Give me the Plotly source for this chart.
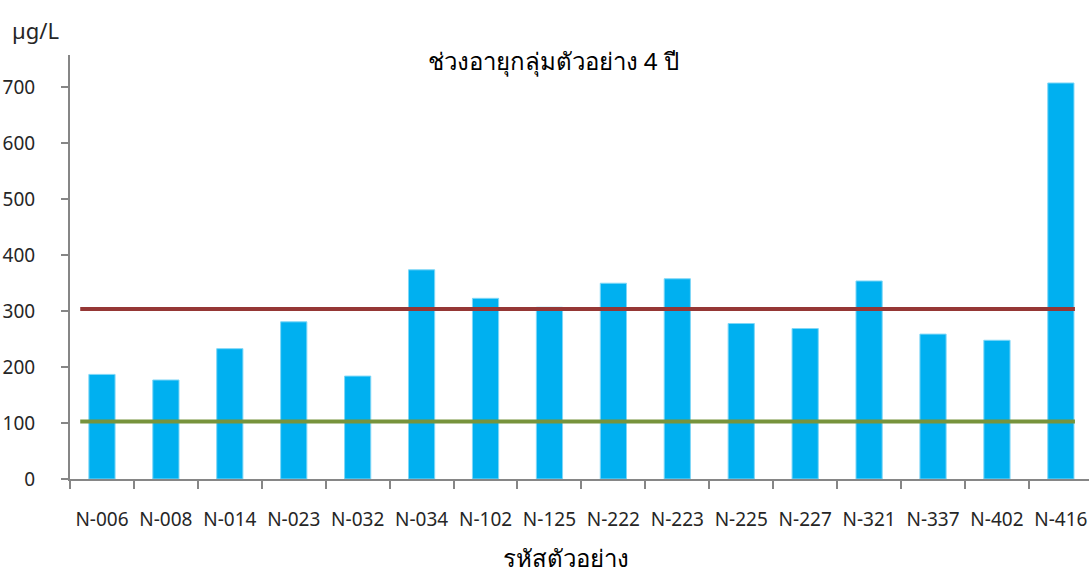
import plotly.graph_objects as go

samples = ["N-006", "N-008", "N-014", "N-023", "N-032", "N-034", "N-102", "N-125",
           "N-222", "N-223", "N-225", "N-227", "N-321", "N-337", "N-402", "N-416"]
values = [187, 177, 233, 281, 184, 374, 323, 307,
          350, 358, 278, 269, 354, 259, 248, 708]
upper_limit = 304
lower_limit = 103

font = "Noto Sans, Tahoma, sans-serif"

fig = go.Figure()
fig.add_trace(go.Bar(x=samples, y=values, width=0.41,
                     marker=dict(color="#00B0F0", line=dict(color="#7FD7F7", width=1))))

for val, col in [(upper_limit, "#953735"), (lower_limit, "#77933C")]:
    fig.add_shape(type="line", xref="x", yref="y", x0=-0.34, x1=15.22, y0=val, y1=val,
                  line=dict(color=col, width=4), layer="above")

fig.update_layout(
    width=1089, height=574,
    margin=dict(l=70, r=0, t=55, b=95, autoexpand=False),
    plot_bgcolor="white", paper_bgcolor="white",
    showlegend=False,
    font=dict(family=font, size=15, color="#262626"),
    title=dict(text="ช่วงอายุกลุ่มตัวอย่าง 4 ปี", x=0.508, xanchor="center",
               y=0.892, yanchor="middle", font=dict(size=24, color="#000000")),
)
fig.update_xaxes(range=[-0.5, 15.44], automargin=False, showline=True, linecolor="#868686",
                 linewidth=2, ticks="outside", tickson="boundaries", ticklen=8,
                 tickcolor="#868686", tickwidth=2, ticklabelstandoff=22, tickangle=0,
                 tickfont=dict(size=19, color="#262626"))
fig.update_yaxes(range=[0, 758], dtick=100, automargin=False, showgrid=False, zeroline=False,
                 showline=True, linecolor="#868686", linewidth=2, ticks="outside", ticklen=7,
                 tickcolor="#868686", tickwidth=2, ticklabelstandoff=22,
                 tickfont=dict(size=19, color="#262626"))
fig.add_annotation(text="รหัสตัวอย่าง", xref="paper", yref="paper", x=0.487, y=-0.184,
                   xanchor="center", yanchor="middle", showarrow=False,
                   font=dict(size=24, color="#000000"))
fig.add_annotation(text="µg/L", xref="paper", yref="paper", x=-0.059, y=1.06,
                   xanchor="left", yanchor="middle", showarrow=False,
                   font=dict(size=22, color="#262626"))

fig.write_html("out.html", config={"displayModeBar": False},
               post_script="document.body.style.margin='0px';")
